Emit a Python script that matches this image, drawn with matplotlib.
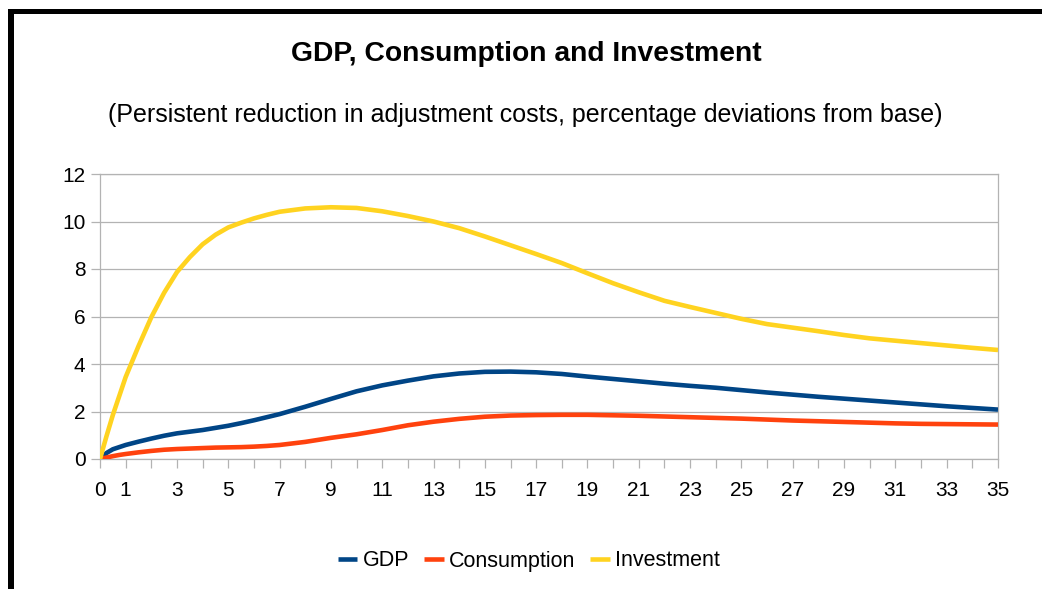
import matplotlib
matplotlib.use("Agg")
import matplotlib.pyplot as plt
from matplotlib.patches import Rectangle

plt.rcParams['font.family'] = ['Liberation Sans', 'DejaVu Sans']

periods = [0, 0.25, 0.5, 0.75, 1, 1.5, 2, 2.5, 3, 3.5, 4, 4.5, 5, 5.5, 6, 6.5, 7,
           8, 9, 10, 11, 12, 13, 14, 15, 16, 17, 18, 19, 20, 21, 22, 23, 24, 25,
           26, 27, 28, 29, 30, 31, 32, 33, 34, 35]
gdp = [0.0, 0.25, 0.41, 0.50, 0.59, 0.73, 0.86, 0.98, 1.08, 1.15, 1.22, 1.31, 1.40, 1.51,
       1.63, 1.76, 1.89,
       2.20, 2.53, 2.85, 3.10, 3.30, 3.48, 3.60, 3.67, 3.68, 3.65, 3.58, 3.47, 3.37,
       3.27, 3.17, 3.08, 3.00, 2.90, 2.80, 2.71, 2.62, 2.54, 2.46, 2.38, 2.30, 2.22,
       2.15, 2.08]
consumption = [0.0, 0.06, 0.12, 0.17, 0.21, 0.28, 0.34, 0.39, 0.42, 0.44, 0.46, 0.48, 0.49,
               0.50, 0.52, 0.55, 0.59,
               0.72, 0.89, 1.04, 1.22, 1.42, 1.57, 1.69, 1.78, 1.83, 1.85, 1.86, 1.86,
               1.84, 1.82, 1.79, 1.76, 1.73, 1.70, 1.66, 1.62, 1.59, 1.56, 1.53, 1.50,
               1.48, 1.47, 1.46, 1.45]
investment = [0.0, 0.95, 1.85, 2.65, 3.45, 4.75, 5.97, 7.00, 7.87, 8.50, 9.04, 9.44, 9.75,
              9.95, 10.13, 10.28, 10.41,
              10.55, 10.60, 10.57, 10.43, 10.23, 10.00, 9.72, 9.37, 9.00, 8.63, 8.25,
              7.82, 7.40, 7.02, 6.66, 6.40, 6.15, 5.90, 5.68, 5.53, 5.38, 5.22, 5.08,
              4.98, 4.88, 4.78, 4.68, 4.59]
series_names = ['GDP', 'Consumption', 'Investment']
series_colors = ['#004586', '#ff420e', '#ffd320']
x_ticks = list(range(36))
x_labels = [str(p) if (p == 0 or p % 2 == 1) else '' for p in x_ticks]
y_ticks = [0, 2, 4, 6, 8, 10, 12]

W, H = 1042, 589
fig = plt.figure(figsize=(W / 100, H / 100), dpi=100)
ax = fig.add_axes([100 / W, 1 - 459 / H, (998 - 100) / W, (459 - 174) / H])

grey = '#b3b3b3'
for vals, name, col in zip([gdp, consumption, investment], series_names, series_colors):
    ax.plot(periods, vals, color=col, lw=3.3, label=name, solid_capstyle='butt',
            solid_joinstyle='round', zorder=3)

ax.set_xlim(0, 35)
ax.set_ylim(0, 12)
ax.set_xticks(x_ticks)
ax.set_xticklabels(x_labels)
ax.set_yticks(y_ticks)
ax.yaxis.grid(True, color=grey, lw=0.9)
ax.set_axisbelow(True)
for s in ax.spines.values():
    s.set_color(grey)
    s.set_linewidth(0.9)
ax.tick_params(axis='both', colors=grey, length=6.5, width=0.9, labelcolor='black',
               labelsize=15)
ax.tick_params(axis='x', pad=9)
ax.tick_params(axis='y', pad=4)

fig.text(526 / W, 1 - 54 / H, 'GDP, Consumption and Investment', ha='center', va='center',
         fontsize=20.3, fontweight='bold')
fig.text(525 / W, 1 - 115 / H,
         '(Persistent reduction in adjustment costs, percentage deviations from base)',
         ha='center', va='center', fontsize=18)

leg = fig.legend(loc='center', bbox_to_anchor=(529 / W, 1 - 561 / H), ncol=3, frameon=False,
                 fontsize=15.5, handlelength=0.9, handletextpad=0.25, columnspacing=0.7)
for l in leg.get_lines():
    l.set_linewidth(3.3)

fig.add_artist(Rectangle((8 / W, 1 - 14 / H), (1042 - 8) / W, 5 / H,
                         transform=fig.transFigure, color='black', lw=0))
fig.add_artist(Rectangle((8 / W, 0), 6 / W, 1 - 9 / H,
                         transform=fig.transFigure, color='black', lw=0))

fig.savefig('out.png', dpi=100, facecolor='white')
